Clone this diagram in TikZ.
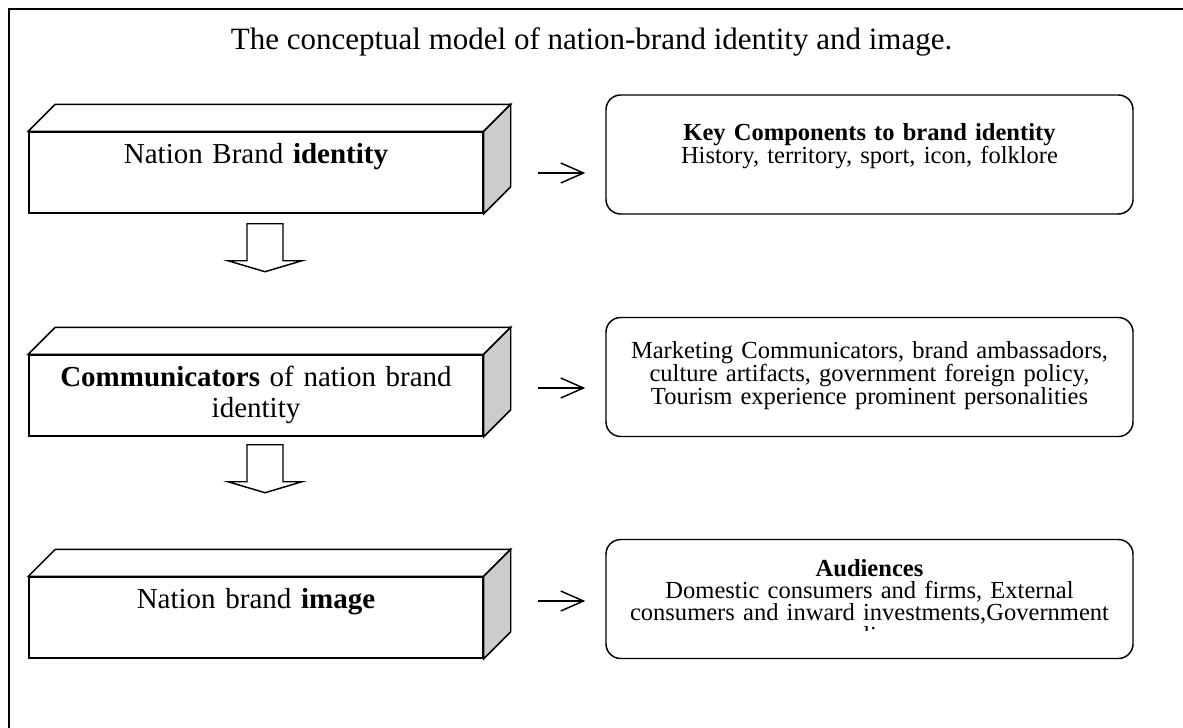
\documentclass[tikz,border=0pt]{standalone}
\usepackage{fontspec}
\setmainfont{Liberation Serif}
\usetikzlibrary{calc,arrows.meta}
\begin{document}
\begin{tikzpicture}[x=0.75pt,y=-0.75pt,
  front/.style={draw, line width=1.1pt, fill=white, minimum width=340.5pt, minimum height=60.75pt, inner sep=0pt},
  rbox/.style={draw, line width=1.1pt, rounded corners=11pt, minimum width=395.25pt, minimum height=89.25pt, inner sep=0pt},
  ltext/.style={font=\fontsize{21.75}{23.25}\selectfont, anchor=base, align=center, text width=330pt, inner sep=0pt},
  rtext/.style={font=\fontsize{18.4}{16.8}\selectfont, anchor=base, align=center, text width=390pt, inner sep=0pt},
  arr/.style={line width=1.1pt, -{Straight Barb[length=17pt,width=15pt,line width=1.1pt]}},
  blockdown/.pic={\draw[line width=1.1pt, fill=white] (-18,10) -- (18,10) -- (18,47) -- (37,47) -- (0,58) -- (-37,47) -- (-18,47) -- cycle;}
]
\useasboundingbox (0,0) rectangle (1183,728);
\clip (0,0) rectangle (1183,728);
\fill[white] (0,0) rectangle (1183,728);
% outer frame (continues beyond the page)
\draw[line width=1.5pt] (9,760) -- (9,9) -- (1220,9);

\node[font=\fontsize{23.25}{28}\selectfont, anchor=base, inner sep=0pt] (title) at (591.5,50) {The conceptual model of nation-brand identity and image.};

% left 3D boxes
\foreach \n/\y in {b1/172.5, b2/395.5, b3/617.5}{
  \node[front] (\n) at (256,\y) {};
  \draw[line width=1.1pt, fill=white] (\n.north west) -- ++(27,-27) -- ($(\n.north east)+(27,-27)$) -- (\n.north east) -- cycle;
  \draw[line width=1.1pt, fill=gray!40] (\n.north east) -- ++(27,-27) -- ($(\n.south east)+(27,-27)$) -- (\n.south east) -- cycle;
}
\node[ltext] (t1) at ($(b1.north)+(0,32)$) {Nation Brand \textbf{identity}};
\node[ltext] (t2) at ($(b2.north)+(0,32)$) {\textbf{Communicators} of nation brand\\identity};
\node[ltext] (t3) at ($(b3.north)+(0,32)$) {Nation brand \textbf{image}};

% right rounded boxes
\node[rbox] (k1) at (869.5,154.5) {};
\node[rbox] (k2) at (869.5,377) {};
\node[rbox] (k3) at (869.5,599) {};

\node[rtext, font=\fontsize{18.4}{15}\selectfont] (r1) at (869.5,140) {\textbf{Key Components to brand identity}\\History, territory, sport, icon, folklore};
\node[rtext] (r2) at (869.5,358) {Marketing Communicators, brand ambassadors,\\culture artifacts, government foreign policy,\\Tourism experience prominent personalities};
\begin{scope}
  \clip (606,540) rectangle (1133,630);
  \node[rtext] (r3) at (869.5,576) {\textbf{Audiences}\\Domestic consumers and firms, External\\consumers and inward investments,Government\\policy};
\end{scope}

% horizontal arrows
\draw[arr] ($(b1.east)+(54,0.5)$) -- ($(k1.west)+(-20,18.5)$);
\draw[arr] ($(b2.east)+(54,-7.5)$) -- ($(k2.west)+(-20,11)$);
\draw[arr] ($(b3.east)+(54,-16.5)$) -- ($(k3.west)+(-20,2)$);

% block arrows
\pic at ($(b1.south)+(9,0)$) {blockdown};
\pic at ($(b2.south)+(9,-2)$) {blockdown};
\end{tikzpicture}
\end{document}
